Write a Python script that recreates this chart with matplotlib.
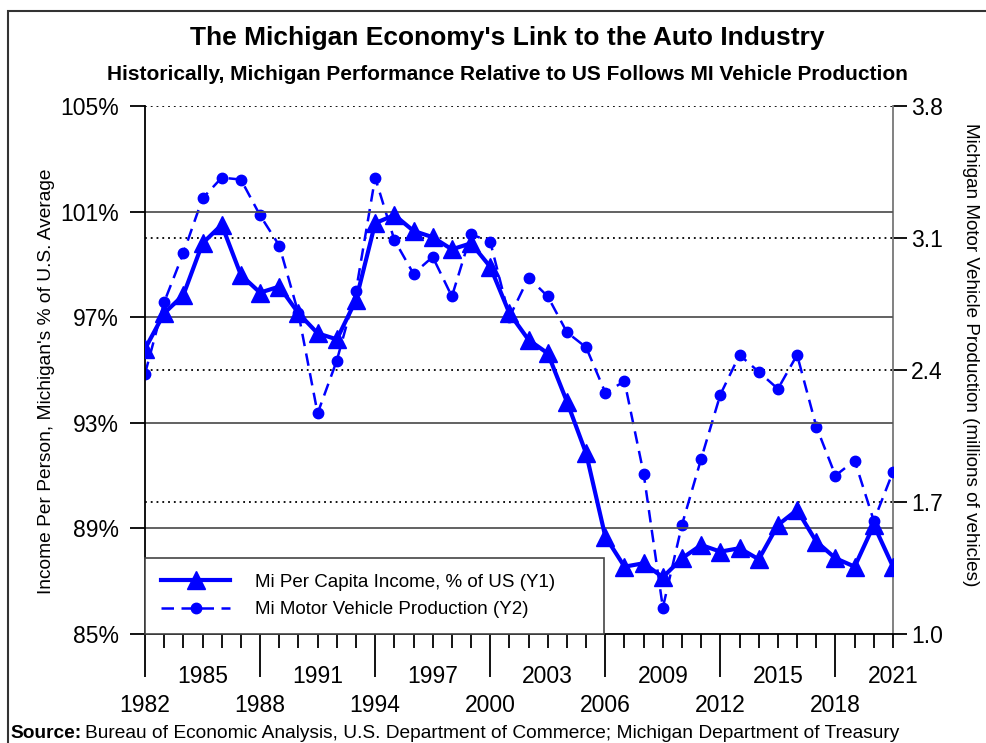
import matplotlib
matplotlib.use("Agg")
import matplotlib.pyplot as plt
import matplotlib.ticker as mticker
from matplotlib.lines import Line2D
from matplotlib.patches import Rectangle

plt.rcParams["font.family"] = ["Liberation Sans", "DejaVu Sans"]

# data
years = list(range(1982, 2022))

income_pct = [95.8, 97.15, 97.84, 99.8, 100.5, 98.6, 97.93, 98.16, 97.15, 96.39,
              96.16, 97.65, 100.56, 100.87, 100.27, 100.03, 99.57, 99.8, 98.91, 97.15,
              96.14, 95.63, 93.8, 91.84, 88.69, 87.55, 87.68, 87.15, 87.87, 88.37,
              88.12, 88.25, 87.83, 89.13, 89.7, 88.5, 87.87, 87.55, 89.13, 87.55]

production = [2.38, 2.76, 3.02, 3.31, 3.42, 3.41, 3.22, 3.06, 2.70, 2.17,
              2.45, 2.82, 3.42, 3.09, 2.91, 3.00, 2.79, 3.12, 3.08, 2.68,
              2.89, 2.79, 2.60, 2.52, 2.28, 2.34, 1.85, 1.14, 1.58, 1.93,
              2.27, 2.48, 2.39, 2.30, 2.48, 2.10, 1.84, 1.92, 1.60, 1.86]

left_ticks = [85, 89, 93, 97, 101, 105]
right_ticks = [1.0, 1.7, 2.4, 3.1, 3.8]

label_income = "Mi Per Capita Income, % of US (Y1)"
label_prod = "Mi Motor Vehicle Production (Y2)"

blue = "#0000ff"
W, H = 986, 743

fig = plt.figure(figsize=(W / 100, H / 100), dpi=100)
ax = fig.add_axes([145 / W, 1 - 634 / H, 748 / W, 528 / H])
ax2 = ax.twinx()

# income on top of production
ax.set_zorder(ax2.get_zorder() + 1)
ax.patch.set_visible(False)

ax.set_xlim(1982, 2021)
ax.set_ylim(85, 105)
ax2.set_ylim(1.0, 3.8)

# grid lines: solid for left axis, dotted for right axis
for v in left_ticks[1:-1]:
    ax.axhline(v, color="#555555", lw=1.3, zorder=0)
for v in right_ticks[1:]:
    ax2.axhline(v, color="black", lw=1.3, ls=(0, (1, 2.2)), zorder=0)

ax2.plot(years, production, color=blue, lw=1.8, ls=(0, (5, 3)),
         marker="o", markersize=7.5, zorder=3)
ax.plot(years, income_pct, color=blue, lw=3, marker="^", markersize=13, zorder=4)

# spines
ax.spines["top"].set_visible(False)
ax2.spines["top"].set_visible(False)
ax.spines["right"].set_visible(False)
ax2.spines["left"].set_visible(False)
ax2.spines["bottom"].set_visible(False)
ax2.spines["right"].set_color("#777777")
ax2.spines["right"].set_linewidth(1.3)
ax.spines["left"].set_linewidth(1.3)
ax.spines["bottom"].set_linewidth(1.3)

# y ticks
ax.set_yticks(left_ticks)
ax.yaxis.set_major_formatter(mticker.FuncFormatter(lambda v, p: "%d%%" % v))
ax.tick_params(axis="y", direction="out", length=11, width=1.3, labelsize=16.5, pad=8)
ax2.set_yticks(right_ticks)
ax2.yaxis.set_major_formatter(mticker.FormatStrFormatter("%.1f"))
ax2.tick_params(axis="y", direction="out", length=10, width=1.3, labelsize=16.5, pad=3,
                color="black")

# x ticks: long ticks every 6 years from 1982, short ticks each year
major_years = [y for y in years if (y - 1982) % 6 == 0]
minor_years = [y for y in years if (y - 1982) % 6 != 0]
ax.set_xticks(major_years)
ax.set_xticks(minor_years, minor=True)
ax.xaxis.set_minor_formatter(mticker.FuncFormatter(
    lambda v, p: str(int(round(v))) if (int(round(v)) - 1985) % 6 == 0 else ""))
ax.tick_params(axis="x", which="major", direction="out", length=31, width=1.3,
               labelsize=16.5, pad=12)
ax.tick_params(axis="x", which="minor", direction="out", length=10, width=1.3,
               labelsize=16.5, pad=12)

fig.text(47 / W, 1 - 381 / H, "Income Per Person, Michigan's % of U.S. Average",
         rotation=90, ha="center", va="center", fontsize=13.8)
fig.text(970 / W, 1 - 355 / H, "Michigan Motor Vehicle Production (millions of vehicles)",
         rotation=-90, ha="center", va="center", fontsize=13.6)

handles = [Line2D([], [], color=blue, lw=3, marker="^", markersize=13),
           Line2D([], [], color=blue, lw=1.8, ls=(0, (5, 3)), marker="o", markersize=7.5)]
leg = ax.legend(handles, [label_income, label_prod], loc="lower left",
                bbox_to_anchor=(0, 0, 459 / 748, 0.14), mode="expand",
                fontsize=13.5, frameon=True, fancybox=False, framealpha=1,
                edgecolor="#444444", handlelength=3.7, borderpad=0.85,
                labelspacing=0.55, handletextpad=1.3, borderaxespad=0)
leg.get_frame().set_linewidth(1.2)
leg.set_zorder(10)

fig.text(507 / W, 1 - 38 / H, "The Michigan Economy's Link to the Auto Industry",
         ha="center", va="center", fontsize=19, fontweight="bold")
fig.text(507 / W, 1 - 75 / H,
         "Historically, Michigan Performance Relative to US Follows MI Vehicle Production",
         ha="center", va="center", fontsize=15, fontweight="bold")

src = fig.text(10 / W, 1 - 733 / H, "Source:", ha="left", va="center",
               fontsize=13.8, fontweight="bold")
fig.canvas.draw()
bb = src.get_window_extent()
fig.text((bb.x1 + 4) / W, 1 - 733 / H,
         "Bureau of Economic Analysis, U.S. Department of Commerce; Michigan Department of Treasury",
         ha="left", va="center", fontsize=13.8)

# outer frame
fig.patches.append(Rectangle((8 / W, -0.05), 1.2, 1 - 11 / H + 0.05,
                             transform=fig.transFigure, fill=False,
                             edgecolor="#333333", lw=1.5))

fig.savefig("out.png", dpi=100)
